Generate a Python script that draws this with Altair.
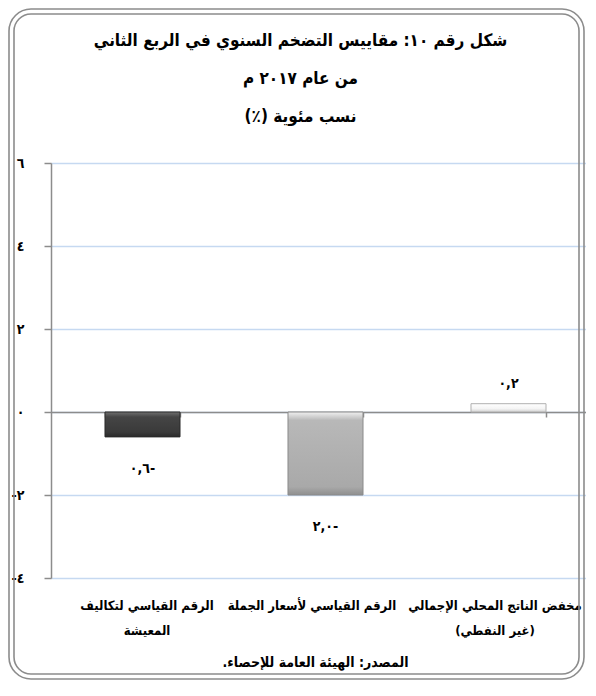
import altair as alt
import pandas as pd

# ---- data ----
categories = [
    "الرقم القياسي لتكاليف|المعيشة",
    "الرقم القياسي لأسعار الجملة",
    "مخفض الناتج المحلي الإجمالي|\u200f(غير النفطي)\u200f",
]
values = [-0.6, -2.0, 0.2]
y_ticks = [-4, -2, 0, 2, 4, 6]

title_lines = [
    "شكل رقم ١٠: مقاييس التضخم السنوي في الربع الثاني",
    "من عام ٢٠١٧ م",
    "نسب مئوية (٪)\u200f",
]
source_text = "المصدر: الهيئة العامة للإحصاء.\u200f"

AR_DIGITS = "٠١٢٣٤٥٦٧٨٩"


def ar_num(v):
    s = f"{abs(v):.1f}".replace(".", ",")
    s = "".join(AR_DIGITS[int(c)] if c.isdigit() else c for c in s)
    return s + ("-" if v < 0 else "")


value_labels = [ar_num(v) for v in values]

df = pd.DataFrame({
    "cat": categories,
    "value": values,
    "label": value_labels,
    "idx": list(range(len(categories))),
})

FONT = "DejaVu Sans Condensed, DejaVu Sans"
W, H = 535, 415
ZERO_FROM_BOTTOM = 166

x_enc = alt.X(
    "cat:N",
    sort=categories,
    scale=alt.Scale(range=[0, 549], paddingInner=0.59, paddingOuter=0.295),
    axis=alt.Axis(
        orient="bottom",
        offset=-ZERO_FROM_BOTTOM,
        domain=True,
        domainColor="#8c8c8c",
        domainWidth=1.5,
        ticks=True,
        tickBand="extent",
        tickSize=5,
        tickColor="#8c8c8c",
        tickWidth=1.5,
        grid=False,
        labelExpr="split(datum.label, '|')",
        labelPadding=182,
        labelLineHeight=25,
        labelFont=FONT,
        labelFontSize=13,
        labelFontWeight="bold",
        labelColor="black",
        labelLimit=400,
        labelOverlap=False,
        labelBound=False,
        labelAngle=0,
        labelOffset={"condition": {"test": f"datum.value == '{categories[0]}'", "value": 4},
                     "value": -14},
        title=source_text,
        titleFont=FONT,
        titleFontSize=14,
        titleFontWeight="bold",
        titleColor="black",
        titleBaseline="middle",
        titleY=250,
        titleX=264,
    ),
)

y_enc = alt.Y(
    "value:Q",
    scale=alt.Scale(domain=[-4, 6], nice=False, zero=False),
    axis=alt.Axis(
        values=y_ticks,
        labelExpr="(datum.value < 0 ? '\u200e-' : '') + ['٠','١','٢','٣','٤','٥','٦','٧','٨','٩'][abs(datum.value)]",
        domainColor="#8c8c8c",
        domainWidth=1.5,
        tickColor="#8c8c8c",
        tickWidth=1.5,
        tickSize=7,
        gridColor="#c6d9f1",
        gridWidth=1.5,
        labelPadding=20,
        labelFont=FONT,
        labelFontSize=14,
        labelFontWeight="bold",
        labelColor="black",
    ),
    title=None,
)

bar_fills = [
    {"gradient": "linear", "x1": 0, "y1": 0, "x2": 0, "y2": 1,
     "stops": [{"offset": 0, "color": "#707070"}, {"offset": 0.2, "color": "#454545"},
               {"offset": 0.8, "color": "#3a3a3a"}, {"offset": 1, "color": "#2a2a2a"}]},
    {"gradient": "linear", "x1": 0, "y1": 0, "x2": 0, "y2": 1,
     "stops": [{"offset": 0, "color": "#f0f0f0"}, {"offset": 0.1, "color": "#b8b8b8"},
               {"offset": 0.9, "color": "#a9a9a9"}, {"offset": 1, "color": "#8f8f8f"}]},
    {"gradient": "linear", "x1": 0, "y1": 0, "x2": 0, "y2": 1,
     "stops": [{"offset": 0, "color": "#ffffff"}, {"offset": 0.6, "color": "#f4f4f4"},
               {"offset": 1, "color": "#d0d0d0"}]},
]
bar_strokes = ["#2a2a2a", "#8a8a8a", "#b0b0b0"]

base = alt.Chart(df)

bar_layers = [
    base.transform_filter(alt.datum.idx == i)
    .mark_bar(fill=bar_fills[i], stroke=bar_strokes[i], strokeWidth=1)
    .encode(x=x_enc, y=y_enc, y2=alt.datum(0))
    for i in range(len(categories))
]

neg_text = base.transform_filter(alt.datum.value < 0).mark_text(
    font=FONT, fontSize=14, fontWeight="bold", color="black", dy=32, baseline="middle"
).encode(x=x_enc, y=y_enc, text="label:N")

pos_text = base.transform_filter(alt.datum.value >= 0).mark_text(
    font=FONT, fontSize=14, fontWeight="bold", color="black", dy=-20, baseline="middle"
).encode(x=x_enc, y=y_enc, text="label:N")

frame = alt.Chart(alt.Data(values=[{"k": 1}]))
frame_outer = frame.mark_rect(filled=False, stroke="#8c8c8c", strokeWidth=1.6, cornerRadius=22).encode(
    x=alt.value(-42), x2=alt.value(W - 2), y=alt.value(-154), y2=alt.value(H + 101)
)
frame_inner = frame.mark_rect(filled=False, stroke="#8c8c8c", strokeWidth=1.6, cornerRadius=17).encode(
    x=alt.value(-37), x2=alt.value(W - 7), y=alt.value(-149), y2=alt.value(H + 96)
)

chart = alt.layer(
    frame_outer, frame_inner, *bar_layers, neg_text, pos_text
).properties(
    width=W,
    height=H,
    autosize=alt.AutoSizeParams(type="none"),
    padding={"left": 43, "top": 155, "right": 0, "bottom": 102},
    title=alt.TitleParams(
        text=title_lines,
        font=FONT,
        fontSize=17,
        fontWeight="bold",
        color="black",
        lineHeight=38,
        anchor="middle",
        frame="group",
        dx=-18,
        offset=-118,
    ),
).configure_view(stroke=None).configure(background="white")

chart.save("out.html", embed_options={"renderer": "svg", "actions": False})
